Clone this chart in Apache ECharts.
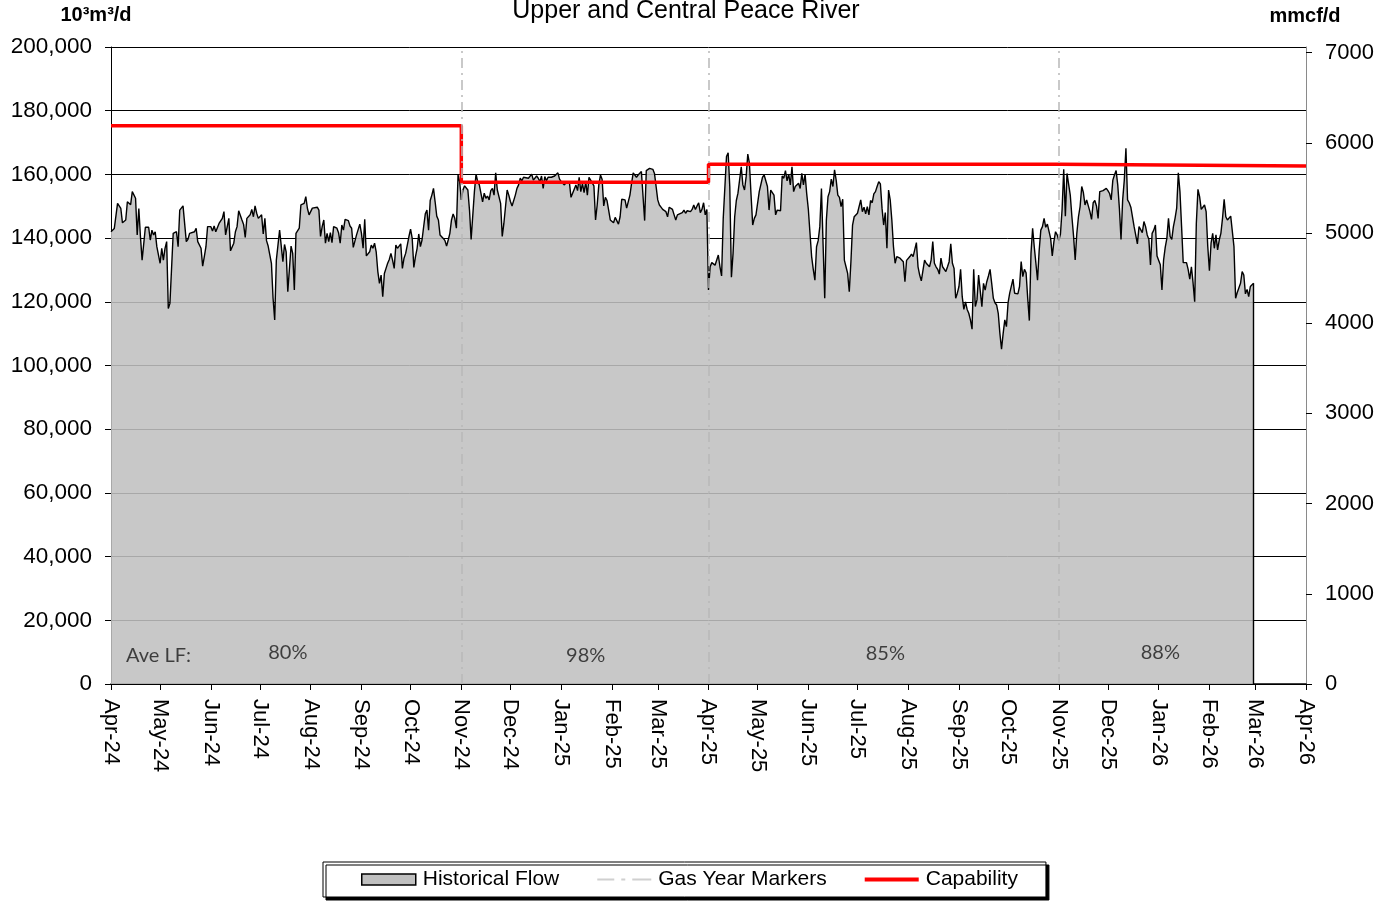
<!DOCTYPE html>
<html>
<head>
<meta charset="utf-8">
<script src="https://cdn.jsdelivr.net/npm/echarts@6/dist/echarts.min.js"></script>
<style>
  html, body { margin: 0; padding: 0; background: #fff; }
  #chart { width: 1383px; height: 901px; }
</style>
</head>
<body>
<div id="chart"></div>
<script>
// day offsets are counted from 1 Apr 2024
const monthLabels = ['Apr-24', 'May-24', 'Jun-24', 'Jul-24', 'Aug-24', 'Sep-24', 'Oct-24', 'Nov-24', 'Dec-24',
  'Jan-25', 'Feb-25', 'Mar-25', 'Apr-25', 'May-25', 'Jun-25', 'Jul-25', 'Aug-25', 'Sep-25', 'Oct-25',
  'Nov-25', 'Dec-25', 'Jan-26', 'Feb-26', 'Mar-26', 'Apr-26'];

// historical flow, 10³m³/d, [day, value]
const flowAprOct24 = [[0,142000],[2,143000],[4,150900],[6,149300],[7,144800],[9,145700],[10,151400],[12,150500],[13,154600],[15,152500],[16,141000],[17,149300],[18,140400],[19,133100],[21,143400],[23,143400],[24,139400],[25,142500],[26,141000],[27,142000],[28,137300],[30,132100],[31,136800],[32,133100],[33,136800],[34,138900],[35,117900],[36,119500],[38,141500],[39,141000],[40,142000],[41,137300],[42,148800],[44,150100],[45,149700],[46,138900],[47,139600],[48,141500],[49,141200],[51,142000],[52,143100],[53,138900],[54,138400],[55,136800],[56,131200],[57,134200],[58,137300],[59,143600],[61,143600],[62,142200],[63,143800],[64,142000],[66,144600],[67,145400],[68,146200],[69,148300],[70,141000],[72,146200],[73,136000],[75,138400],[76,142000],[77,143600],[78,148600],[80,145700],[81,144300],[82,140200],[83,146200],[85,147300],[86,149000],[87,146700],[88,150100],[89,147800],[90,146200],[92,147300],[93,141300],[94,146200],[95,139200],[96,137500],[98,132100],[99,121100],[100,114300],[101,133100],[102,133700],[103,142500],[105,132600],[106,138000],[107,135700],[108,123200],[110,137500],[111,135200],[112,123700],[113,141500],[115,143100],[116,150400],[118,150900],[119,153000],[120,149300],[121,147300],
  [123,149400],[124,149900],[126,149700],[127,148800],[128,140500],[129,143600],[130,145700],[131,138400],[132,141500],[133,138900],[134,141700],[135,138600],[136,143600],[137,143800],[138,143100],[139,141700],[140,138400],[141,144100],[142,142500],[143,145900],[145,145500],[146,143800],[147,143100],[148,137100],[149,136800],[150,141000],[152,144400],[153,141500],[154,136800],[155,145900],[156,134400],[158,135700],[159,137800],[160,136800],[161,138400],[162,135700],[163,129500],[164,125800],[165,128400],[166,121600],[167,128900],[168,130500],[169,132100],[170,133300],[171,135200],[172,133100],[173,130500],[174,137800],[175,136800],[177,138200],[178,130500],[179,133700],[180,135200],[181,137800],[182,140500],[183,142800],[184,139900],[185,130800],[186,134200],[187,136800],[188,141300],[189,137300],[190,139400],[191,143600],[192,147600],[193,148800],[194,142500],[195,151800],[196,153500],[197,155600],[198,151400],[199,146900],[200,145700],[201,141000],[202,141500],[203,139900],[204,139200],[205,137500],[206,139400],[207,141500],[208,145700],[209,147600],[210,146200],[211,143100],[212,159800],[213,157700]];
const flowNov24Mar25 = [[214,152000],[215,155100],[216,156400],[217,157000],[218,155100],[219,148800],[220,139600],[222,154600],[223,160100],[224,157700],[225,156700],[226,157000],[227,151400],[228,154100],[229,152500],[230,153200],[231,152000],[232,154900],[233,155600],[234,153500],[235,160500],[236,155100],[237,154600],[238,150900],[239,140500],[240,144600],[241,145200],[242,155100],[243,153500],[244,151500],
  [245,150100],[246,150400],[247,153500],[248,155600],[249,156700],[250,158800],[251,158000],[252,159100],[253,158500],[255,158800],[256,159100],[257,160100],[258,158200],[260,159500],[261,158800],[262,157700],[263,159500],[264,155600],[265,159300],[266,158000],[267,159100],[268,158500],[269,159100],[270,159300],[271,159500],[273,160500],[274,158500],[275,157700],[276,158000],[277,156700],[278,157400],[279,157000],[280,157700],[281,152800],[282,154100],[283,154600],[284,156700],[285,154900],[286,159100],[287,154600],[288,157200],[289,154300],[290,157700],[291,153500],[292,159100],[293,158200],[294,158500],[295,156400],[296,145700],[297,150400],[298,156700],[299,159800],[300,158500],[301,150100],[302,152800],[303,151800],[304,148800],[305,145700],[306,146200],[307,144800],[308,146500],[310,144400],[311,146700],[312,152200],[313,152800],[314,152000],[315,149400],[316,149000],[317,153500],[318,157200],[319,160500],[320,160100],[321,159100],[322,159800],[323,160300],[324,160900],[325,161200],[326,145500],[327,161200],[328,161600],[329,161900],[330,161400],[331,161600],[332,160300],[333,159800],[334,152000],[335,150400],[336,149700],[337,149000],[338,149400],[339,148300],[340,146700],[341,149700],[342,149900],[343,149000],[344,147300],[345,145700],[346,147300],[347,147800],[349,148000],[350,148800],[351,147800],[352,148600],[353,148000],[354,148300],[355,149000],[356,150400],[357,149000],[358,150100],[359,151100],[360,148000],[361,149000],[362,151100],[363,147300],[364,149000]];
const flowAprOct25 = [[365,123700],[366,131000],[367,132300],[369,131500],[370,131200],[371,134700],[372,131000],[373,128100],[374,146200],[376,165600],[377,166800],[378,156200],[379,127700],[380,135200],[381,146700],[382,151800],[383,154100],[384,153500],[385,162400],[386,156700],[387,155100],[388,159300],[389,166400],[390,163500],[391,153500],[392,144100],[393,146200],[394,147300],[395,146700],[396,154600],[398,159100],[399,159800],[400,159300],[401,156200],[402,148800],[403,155100],[404,155600],[405,153500],[406,147300],[407,148800],[408,148300],[409,148600],[410,159500],[411,158800],[412,161200],[413,158000],[414,160100],[415,156700],[416,162400],[417,154600],[418,156200],[419,156400],[420,157200],[421,155600],[422,160300],[423,156700],[424,160100],[425,153900],[426,149000],[427,141500],[428,134200],[429,130200],[430,126800],[431,137300],[432,139200],[433,143600],[434,155600],[435,138000],[436,121100],[437,145700],[438,153000],[439,154600],[440,158500],[441,156200],[442,161400],[443,158200],[444,153500],[445,152800],[446,149900],[447,152200],[448,133100],[449,131000],[450,128900],[451,123200],[452,132600],[453,144100],[454,146700],[456,147800],[457,148000],[458,152000],[459,148300],[460,149700],[461,147600],[462,149900],[463,147300],[464,151800],[465,151100],[466,153900],[467,154600],[468,156200],[469,157700],[470,157000],[471,149400],[472,144100],[473,148000],[474,136800],[475,155100],[476,152000],[477,145700],[478,137300],[479,132100],[480,134200],[481,134400],[482,133700],[484,132600],[485,126300],[486,133000],[487,133500],[488,134200],
  [489,135000],[490,134200],[491,134400],[492,138600],[493,131000],[494,128400],[495,126600],[496,126300],[497,133100],[498,132100],[499,132600],[500,131000],[501,133100],[502,138900],[503,132100],[504,131000],[505,130200],[506,128700],[507,133700],[508,131000],[509,130500],[510,129500],[511,131000],[512,132600],[513,138200],[514,132100],[515,130500],[516,121100],[517,122700],[518,124800],[519,130200],[520,121600],[521,117600],[522,120000],[523,117600],[524,116400],[525,114300],[526,111400],[527,130200],[528,118500],[529,120600],[530,128400],[531,127900],[532,118500],[533,125800],[534,123700],[535,126300],[536,128100],[537,130200],[538,125800],[539,121100],[540,119700],[541,119000],[542,116400],[543,110100],[544,105100],[545,110100],[546,114300],[547,112200],[548,119700],[549,122700],[550,123200],[551,127100],[552,122700],[554,122500],[555,124800],[556,132600],[557,127900],[558,130200],[559,129100],[560,121100],[561,114100],[562,135200],[563,143100],[564,137300],[565,132100],[566,126800],[567,136100],[568,142500],[569,143600],[570,146200],[571,143400],[572,144400],[573,143800],[574,139900],[575,134400],[576,138900],[577,142000],[578,141000]];
const flowNov25Feb26 = [[579,139200],[580,141300],[581,149000],[582,161600],[583,146900],[584,160300],[585,160900],[586,153500],[587,146700],[588,140700],[589,133100],[590,141500],[591,146700],[592,149900],[593,156200],[594,154300],[595,150400],[596,152000],[597,152200],[598,148300],[599,145900],[600,151100],[601,151800],[602,150100],[603,146200],[604,154600],[605,155100],[606,154900],[607,154300],[608,155600],[609,154900],[610,154000],
  [611,152000],[612,158200],[613,159800],[614,161200],[615,156700],[616,149400],[617,139600],[618,152000],[619,158200],[620,168200],[621,152000],[622,151100],[623,149700],[624,149900],[625,143600],[626,143400],[627,138200],[628,143600],[629,143100],[630,141700],[631,145200],[632,143600],[633,141000],[634,139600],[635,131600],[636,141500],[637,142500],[638,144100],[639,134400],[640,134200],[641,131600],[642,123700],[643,133100],[644,137100],[645,139900],[646,146200],[647,140500],[648,139600],[649,143600],[650,146200],[651,149400],[652,160500],[653,154600],[654,143600],[655,132300],[656,131900],[657,132300],[658,130200],[659,127100],[660,131000],[661,126000],[662,120000],[663,144600],[664,155300],[665,153000],[666,149000],[667,148800],[668,150400],[669,148300],[670,137300],[671,129800],[672,138400],[673,141500],[674,136800],[675,141000],[676,136300],[677,139400],[678,141500],[679,146200],[680,152200],[681,146700],[682,145700],[683,146200],[684,146900],[685,146700],[686,137300],[687,121100],[688,122900],[689,123200],[690,125800],[691,129500],[692,128400],[693,122500],[694,123900],[695,121600],[696,124800],[697,125300],[698,125800]];

// capability per gas-year period: [startDay, endDay) -> value
const capabilityDays = [0, 214, 365, 579, 730];
const capabilityValues = [175300, 157500, 163200, 162600];
const gasYearDays = [214, 365, 579];

const lfLabels = ['Ave LF:', '80%', '98%', '85%', '88%'];
const lfDays = [29, 108, 290, 473, 641];
const lfValues = [9000, 9800, 8800, 9700, 10000];

const rightTicks = [0, 1000, 2000, 3000, 4000, 5000, 6000, 7000];
const M3_PER_MCF = 28.3168;

const FONT = '"Liberation Sans", Arial, sans-serif';

function dayToTime(day) {
  return new Date(2024, 3, 1 + day).getTime();
}

const monthTicks = monthLabels.map((_, i) => new Date(2024, 3 + i, 1).getTime());

function monthLabel(value) {
  let best = 0;
  monthTicks.forEach((t, i) => { if (Math.abs(t - value) < Math.abs(monthTicks[best] - value)) best = i; });
  return monthLabels[best];
}

const flow = [...flowAprOct24, ...flowNov24Mar25, ...flowAprOct25, ...flowNov25Feb26];
const flowData = flow.map(([d, v]) => [dayToTime(d), v]);
const lastFlow = flowData[flowData.length - 1];

// each period drawn as a flat run, joined by vertical steps
const capabilityData = [];
capabilityValues.forEach((v, i) => {
  capabilityData.push([dayToTime(capabilityDays[i]), v]);
  capabilityData.push([dayToTime(capabilityDays[i + 1]), v]);
});

const chart = echarts.init(document.getElementById('chart'));
chart.setOption({
  animation: false,
  backgroundColor: '#fff',
  textStyle: { fontFamily: FONT },
  grid: { left: 111, right: 77, top: 47, bottom: 217, containLabel: false },
  legend: {
    left: 323,
    top: 862,
    padding: [7, 28, 7, 38],
    itemGap: 38,
    itemWidth: 54,
    itemHeight: 11,
    backgroundColor: '#fff',
    borderColor: '#000',
    borderWidth: 1,
    shadowColor: '#000',
    shadowBlur: 0,
    shadowOffsetX: 3,
    shadowOffsetY: 3,
    textStyle: { fontFamily: FONT, fontSize: 21, color: '#000', padding: [0, 0, 0, 2] },
    data: [
      { name: 'Historical Flow', icon: 'rect', itemStyle: { color: '#c0c0c0', borderColor: '#000', borderWidth: 1.5 } },
      { name: 'Gas Year Markers', icon: 'path://M0,0h17v2h-17z M24,0h4v2h-4z M35,0h19v2h-19z', itemStyle: { color: '#d0d0d0' } },
      { name: 'Capability', icon: 'path://M0,0h54v4h-54z', itemStyle: { color: '#ff0000' } }
    ]
  },
  xAxis: {
    type: 'value',
    min: dayToTime(0),
    max: dayToTime(730),
    axisLine: { show: true, lineStyle: { color: '#000', width: 1.5 } },
    axisTick: { show: true, length: 6, customValues: monthTicks, lineStyle: { color: '#000' } },
    axisLabel: {
      customValues: monthTicks,
      rotate: -90,
      margin: 15,
      fontFamily: FONT,
      fontSize: 22,
      color: '#000',
      formatter: monthLabel
    },
    splitLine: { show: false }
  },
  yAxis: [
    {
      type: 'value',
      min: 0,
      max: 200000,
      interval: 20000,
      axisLine: { show: true, lineStyle: { color: '#000' } },
      axisTick: { show: true, length: 6, lineStyle: { color: '#000' } },
      axisLabel: { margin: 19, fontFamily: FONT, fontSize: 22.5, color: '#000', formatter: v => v.toLocaleString('en-US') },
      splitLine: { show: true, lineStyle: { color: '#000', width: 1 } }
    },
    {
      type: 'value',
      position: 'right',
      min: 0,
      max: 200000 / M3_PER_MCF,
      axisLine: { show: true, lineStyle: { color: '#8a8a8a' } },
      axisTick: { show: true, length: 6, customValues: rightTicks, lineStyle: { color: '#000' } },
      axisLabel: { customValues: rightTicks, margin: 19, fontFamily: FONT, fontSize: 22, color: '#000', formatter: v => String(Math.round(v)) },
      splitLine: { show: false }
    }
  ],
  series: [
    {
      name: 'Historical Flow',
      type: 'line',
      symbol: 'none',
      data: flowData,
      lineStyle: { color: '#000', width: 1.4 },
      itemStyle: { color: '#c0c0c0' },
      areaStyle: { color: 'rgba(192,192,192,0.875)', opacity: 1 },
      markLine: {
        silent: true,
        symbol: 'none',
        label: { show: false },
        lineStyle: { color: '#000', width: 1.4, type: 'solid' },
        data: [[{ coord: [lastFlow[0], 0] }, { coord: lastFlow }]]
      },
      z: 2
    },
    {
      name: 'Gas Year Markers',
      type: 'line',
      symbol: 'none',
      data: [],
      lineStyle: { color: '#d0d0d0', width: 2 },
      itemStyle: { color: '#d0d0d0' },
      markLine: {
        silent: true,
        symbol: 'none',
        label: { show: false },
        lineStyle: { color: '#b8b8b8', width: 1.5, type: [10, 5, 2, 5] },
        data: gasYearDays.map(d => ({ xAxis: dayToTime(d) }))
      },
      z: 3
    },
    {
      name: 'Capability',
      type: 'line',
      symbol: 'none',
      data: capabilityData,
      lineStyle: { color: '#ff0000', width: 3.5 },
      itemStyle: { color: '#ff0000' },
      z: 4
    },
    {
      name: 'lf',
      type: 'scatter',
      symbolSize: 1,
      itemStyle: { color: 'rgba(0,0,0,0)' },
      label: {
        show: true,
        position: 'inside',
        formatter: '{b}',
        fontFamily: 'Lato, "Open Sans", sans-serif',
        fontSize: 20,
        color: '#1a1a1a'
      },
      data: lfLabels.map((t, i) => ({ name: t, value: [dayToTime(lfDays[i]), lfValues[i]] })),
      z: 5
    }
  ],
  graphic: [
    { type: 'text', x: 96, y: 15, style: { text: '10³m³/d', font: 'bold 20px ' + FONT, fill: '#000', align: 'center', verticalAlign: 'middle' } },
    { type: 'text', x: 1305, y: 16, style: { text: 'mmcf/d', font: 'bold 20px ' + FONT, fill: '#000', align: 'center', verticalAlign: 'middle' } },
    { type: 'text', x: 686, y: 11, style: { text: 'Upper and Central Peace River', font: '25px ' + FONT, fill: '#000', align: 'center', verticalAlign: 'middle' } }
  ]
});
</script>
</body>
</html>
